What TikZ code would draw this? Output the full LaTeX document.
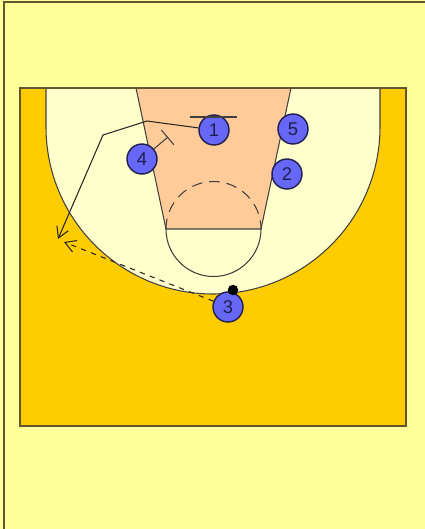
\documentclass[tikz,border=0pt]{standalone}
\usepackage{fontspec}
\setmainfont{Liberation Sans}
\usepackage{xcolor}
\definecolor{pageYellow}{RGB}{255, 255, 153}
\definecolor{courtGold}{RGB}{255, 204, 0}
\definecolor{arcCream}{RGB}{255, 255, 204}
\definecolor{lanePeach}{RGB}{255, 204, 153}
\definecolor{playerBlue}{RGB}{102, 104, 245}
\definecolor{numberNavy}{RGB}{30, 30, 80}
\definecolor{edgeBrown}{RGB}{100, 85, 45}
\usetikzlibrary{arrows.meta}

\begin{document}
\begin{tikzpicture}[
    x=0.02cm, y=-0.02cm,
    every node/.style={font=\fontsize{10.5}{12}\selectfont},
    court/.style={draw=edgeBrown, line width=1.1pt},
    mark line/.style={draw=black!75, line width=0.6pt},
    player/.style={
        circle, draw=numberNavy, fill=playerBlue, line width=0.8pt,
        minimum size=0.6cm, inner sep=0pt, text=numberNavy
    },
    cut/.style={-{Straight Barb[length=6pt, width=7pt]}, line width=0.6pt, black!85},
    pass/.style={cut, dashed}
]
\useasboundingbox (0,0) rectangle (425,529);

%% ---- Page and court ----
\fill[pageYellow] (0,0) rectangle (425,529);
\draw[edgeBrown, line width=0.8pt] (4,529) -- (4,2) -- (425,2);
\filldraw[fill=courtGold, court] (20,88) rectangle (406,426);

%% ---- Three point area ----
\fill[arcCream] (46,88) -- (46,127) arc (180:0:167) -- (380,88) -- cycle;
\draw[mark line] (46,88) -- (46,127) arc (180:0:167) -- (380,88);

%% ---- Lane and free throw circle ----
\filldraw[fill=lanePeach, mark line] (136,88) -- (291,88) -- (261,229) -- (166,229) -- cycle;
\draw[mark line] (166,229) arc (180:0:47.5);
\draw[mark line, dashed, dash pattern=on 6pt off 4pt] (166,229) arc (180:360:47.5);
\draw[court] (20,88) -- (406,88);

%% ---- Players ----
\node[player] (p1) at (214,130) {1};
\node[player] (p2) at (287,174) {2};
\node[player] (p3) at (228,307) {3};
\node[player] (p4) at (142,159) {4};
\node[player] (p5) at (293,129) {5};
\node[circle, fill=black, minimum size=0.21cm, inner sep=0pt] (ball) at (233,290) {};

%% ---- Screens ----
\coordinate (s1a) at (190,117);
\coordinate (s1b) at (237,117);
\draw[mark line] (s1a) -- (s1b);
\coordinate (s4) at (168,137);
\draw[mark line, -{Bar[width=11pt]}] (p4) -- (s4);

%% ---- Cut of 1 and pass from 3 ----
\coordinate (c1) at (147,121);
\coordinate (c2) at (103,135);
\coordinate (c3) at (58,239);
\draw[cut] (p1) -- (c1) -- (c2) -- (c3);
\coordinate (r3) at (64,242);
\draw[pass] (p3) -- (r3);

\end{tikzpicture}
\end{document}
